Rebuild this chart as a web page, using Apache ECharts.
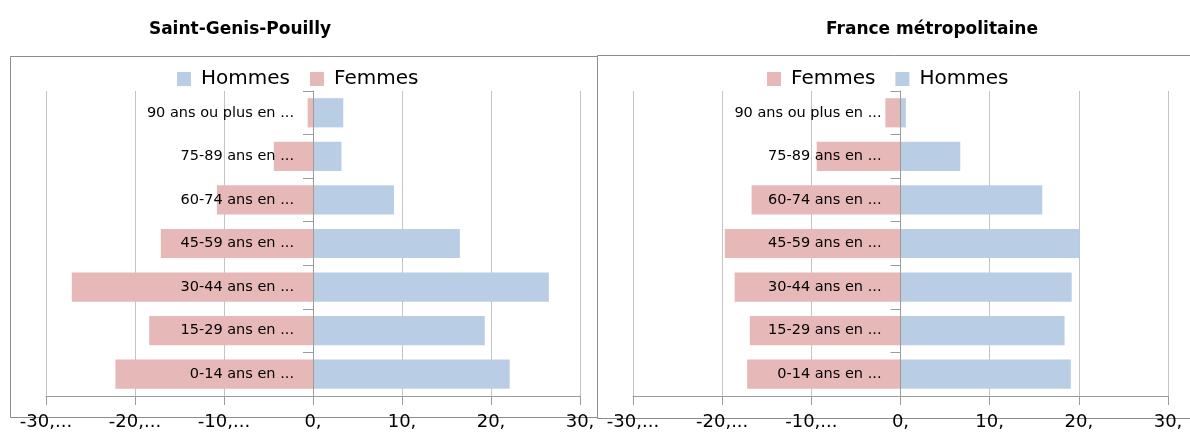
<!DOCTYPE html>
<html>
<head>
<meta charset="utf-8">
<script src="https://cdn.jsdelivr.net/npm/echarts@6/dist/echarts.min.js"></script>
<style>
  html, body { margin: 0; padding: 0; background: #ffffff; }
  #chart { width: 1190px; height: 432px; }
</style>
</head>
<body>
<div id="chart"></div>
<script>
// Age groups, bottom to top
const categories = [
  '0-14 ans en ...',
  '15-29 ans en ...',
  '30-44 ans en ...',
  '45-59 ans en ...',
  '60-74 ans en ...',
  '75-89 ans en ...',
  '90 ans ou plus en ...'
];

// Saint-Genis-Pouilly (% of population)
const sgpHommes = [22.1, 19.3, 26.5, 16.5, 9.1, 3.2, 3.4];
const sgpFemmes = [22.2, 18.4, 27.1, 17.1, 10.8, 4.4, 0.6];

// France métropolitaine (% of population)
const frHommes = [19.1, 18.4, 19.2, 20.1, 15.9, 6.7, 0.6];
const frFemmes = [17.2, 16.9, 18.6, 19.7, 16.7, 9.4, 1.7];

// Value-axis tick labels, from -30 to 30
const tickLabels = ['-30,...', '-20,...', '-10,...', '0,', '10,', '20,', '30,'];

const titles = ['Saint-Genis-Pouilly', 'France métropolitaine'];

const colorHommes = '#B9CDE5';
const colorFemmes = '#E6B9B8';
const gridColor = '#C4C4C4';
const axisColor = '#9C9C9C';
const FONT = 'DejaVu Sans';

const AX_MIN = -30, AX_MAX = 30, AX_STEP = 10;

function xAxisFor(gridIndex) {
  return {
    type: 'value', gridIndex: gridIndex,
    min: AX_MIN, max: AX_MAX, interval: AX_STEP,
    axisLine: { show: true, onZero: false, lineStyle: { color: axisColor, width: 1 } },
    axisTick: { show: true, length: 9, lineStyle: { color: axisColor } },
    splitLine: { show: true, lineStyle: { color: gridColor, width: 1 } },
    axisLabel: {
      margin: 17, color: '#000000', fontFamily: FONT, fontSize: 18,
      formatter: function (v) { return tickLabels[Math.round((v - AX_MIN) / AX_STEP)]; }
    }
  };
}

// Category axis sits on the zero line; its names are drawn by a label series
function yAxisFor(gridIndex) {
  return {
    type: 'category', gridIndex: gridIndex, data: categories,
    axisLine: { show: true, onZero: true, lineStyle: { color: axisColor, width: 1 } },
    axisTick: { show: true, length: 10, lineStyle: { color: axisColor } },
    splitLine: { show: false },
    axisLabel: { show: false },
    z: 5
  };
}

function barSeries(name, values, sign, color, gridIndex) {
  return {
    name: name, type: 'bar',
    xAxisIndex: gridIndex, yAxisIndex: gridIndex,
    data: values.map(function (v) { return sign * v; }),
    itemStyle: { color: color },
    barGap: '-100%', barCategoryGap: '33%',
    z: 2
  };
}

// Age-group names, right-aligned just left of the zero line
function nameSeries(gridIndex) {
  return {
    type: 'scatter', xAxisIndex: gridIndex, yAxisIndex: gridIndex,
    data: categories.map(function (c) { return [0, c]; }),
    symbolSize: 0, silent: true, z: 10,
    itemStyle: { opacity: 1 },
    label: {
      show: true, position: 'left', distance: 19, opacity: 1,
      color: '#000000', fontFamily: FONT, fontSize: 14.5, fontWeight: 'normal',
      textBorderWidth: 0,
      formatter: function (p) { return p.value[1]; }
    }
  };
}

const legendText = { color: '#000000', fontFamily: FONT, fontSize: 20, padding: [0, 0, 0, 5] };

const option = {
  animation: false,
  backgroundColor: '#ffffff',
  title: [
    { text: titles[0], left: 240, top: 21, textAlign: 'center', padding: 0,
      textStyle: { fontFamily: FONT, fontWeight: 'bold', fontSize: 17, color: '#000000' } },
    { text: titles[1], left: 932, top: 21, textAlign: 'center', padding: 0,
      textStyle: { fontFamily: FONT, fontWeight: 'bold', fontSize: 17, color: '#000000' } }
  ],
  legend: [
    { data: ['Hommes', 'Femmes'], left: 177, top: 69, padding: 0, itemWidth: 14, itemHeight: 14,
      itemGap: 20, icon: 'rect', textStyle: legendText, selectedMode: false },
    { data: ['Femmes', 'Hommes'], left: 767, top: 69, padding: 0, itemWidth: 14, itemHeight: 14,
      itemGap: 20, icon: 'rect', textStyle: legendText, selectedMode: false }
  ],
  grid: [
    { left: 46, right: 610, top: 91, bottom: 36, containLabel: false, outerBoundsMode: 'none' },
    { left: 633, right: 22, top: 91, bottom: 36, containLabel: false, outerBoundsMode: 'none' }
  ],
  xAxis: [xAxisFor(0), xAxisFor(1)],
  yAxis: [yAxisFor(0), yAxisFor(1)],
  series: [
    barSeries('Hommes', sgpHommes, 1, colorHommes, 0),
    barSeries('Femmes', sgpFemmes, -1, colorFemmes, 0),
    barSeries('Femmes', frFemmes, -1, colorFemmes, 1),
    barSeries('Hommes', frHommes, 1, colorHommes, 1),
    nameSeries(0),
    nameSeries(1)
  ],
  graphic: [
    { type: 'rect', shape: { x: 10.5, y: 56.5, width: 587, height: 361 },
      style: { fill: null, stroke: '#8C8C8C', lineWidth: 1 }, z: -1 },
    { type: 'rect', shape: { x: 597.5, y: 55.5, width: 620, height: 363 },
      style: { fill: '#ffffff', stroke: '#8C8C8C', lineWidth: 1 }, z: -1 }
  ]
};

const chart = echarts.init(document.getElementById('chart'), null, { renderer: 'canvas' });
chart.setOption(option);
</script>
</body>
</html>
